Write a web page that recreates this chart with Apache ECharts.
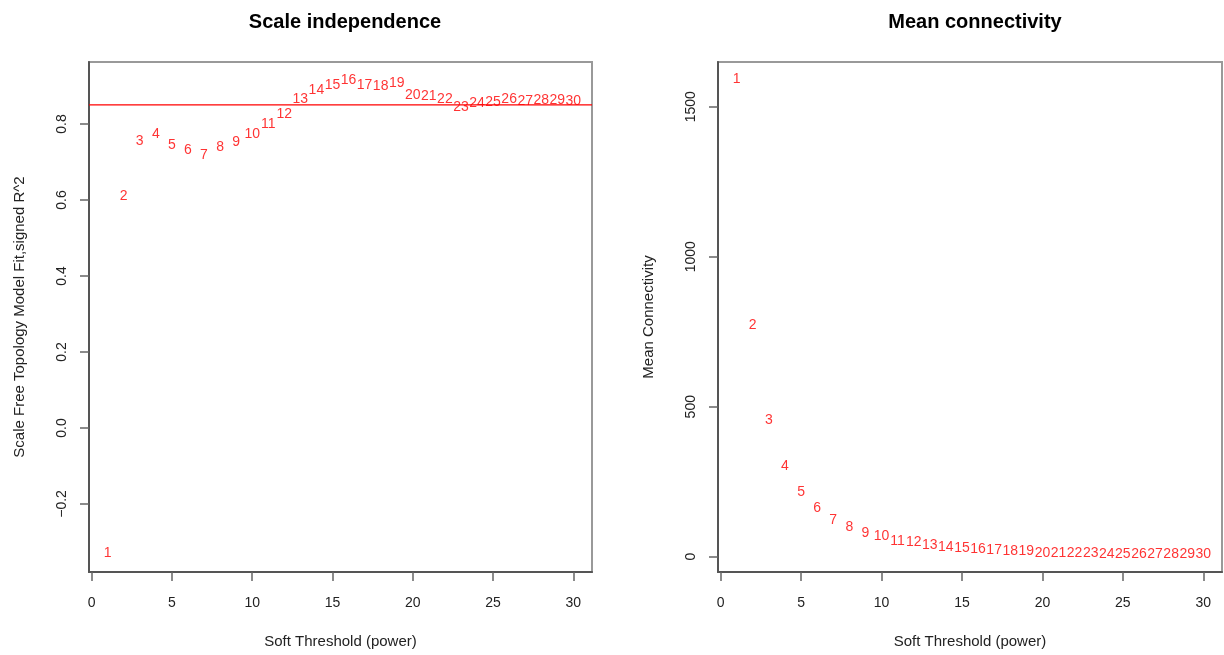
<!DOCTYPE html>
<html>
<head>
<meta charset="utf-8">
<script src="https://cdn.jsdelivr.net/npm/echarts@6/dist/echarts.min.js"></script>
<style>html,body{margin:0;padding:0;background:#fff}#c{width:1224px;height:655px}</style>
</head>
<body>
<div id="c"></div>
<script>
// ---- data ----
const powers = [1,2,3,4,5,6,7,8,9,10,11,12,13,14,15,16,17,18,19,20,21,22,23,24,25,26,27,28,29,30];
const sftR2 = [-0.329,0.611,0.756,0.774,0.745,0.732,0.718,0.738,0.753,0.774,0.799,0.826,0.865,0.888,0.901,0.916,0.903,0.900,0.907,0.876,0.874,0.865,0.844,0.854,0.857,0.866,0.859,0.863,0.863,0.861];
const meanK = [1592,772,456,302,215,161,122,100,80,67,53,48,39,33,28,24,22,19,18,13,13,12,12,10,10,10,10,10,9,9];
const xTicks = [0,5,10,15,20,25,30];
const yTicksLeft = [-0.2,0,0.2,0.4,0.6,0.8];
const yTicksRight = [0,500,1000,1500];
const cutoff = 0.85;
const xMin = -0.16, xMax = 31.16;

const FONT = 'Liberation Sans';
const fmtLeft = v => (Number(v).toFixed(1)).replace('-', '\u2212');

function xAxisCfg(gi){
  return {
    type:'value', gridIndex:gi, min:xMin, max:xMax,
    name:'Soft Threshold (power)', nameLocation:'middle', nameGap:62,
    nameTextStyle:{fontFamily:FONT,fontSize:15,color:'#222'},
    axisLine:{show:true, onZero:false, lineStyle:{color:'#555', width:2}}, splitLine:{show:false},
    axisTick:{show:true, length:9, customValues:xTicks, lineStyle:{color:'#666', width:1.5}},
    axisLabel:{customValues:xTicks, margin:24, fontFamily:FONT, fontSize:14, color:'#222'}
  };
}
function yAxisCfg(gi, min, max, ticks, name, fmt, gap){
  return {
    type:'value', gridIndex:gi, min:min, max:max,
    name:name, nameLocation:'middle', nameGap:gap, nameRotate:90,
    nameTextStyle:{fontFamily:FONT,fontSize:15,color:'#222'},
    axisLine:{show:true, onZero:false, lineStyle:{color:'#555', width:2}}, splitLine:{show:false},
    axisTick:{show:true, length:9, customValues:ticks, lineStyle:{color:'#666', width:1.5}},
    axisLabel:{customValues:ticks, rotate:90, margin:20, fontFamily:FONT, fontSize:14, color:'#222', formatter:fmt}
  };
}
const lab = {show:true, position:'inside', color:'#ff0000', fontFamily:FONT, fontSize:14, formatter:p => String(p.value[0])};

const chart = echarts.init(document.getElementById('c'), null, {renderer:'canvas'});
chart.setOption({
  backgroundColor:'#ffffff',
  animation:false,
  title:[
    {text:'Scale independence', left:340, top:7, textAlign:'center', textStyle:{fontFamily:FONT,fontSize:20,fontWeight:'bold',color:'#000'}},
    {text:'Mean connectivity', left:970, top:7, textAlign:'center', textStyle:{fontFamily:FONT,fontSize:20,fontWeight:'bold',color:'#000'}}
  ],
  grid:[
    {left:89, top:62, width:503, height:510, show:true, borderColor:'#999', borderWidth:2, backgroundColor:'transparent'},
    {left:718, top:62, width:504, height:510, show:true, borderColor:'#999', borderWidth:2, backgroundColor:'transparent'}
  ],
  xAxis:[xAxisCfg(0), xAxisCfg(1)],
  yAxis:[
    yAxisCfg(0, -0.379, 0.963, yTicksLeft, 'Scale Free Topology Model Fit,signed R^2', fmtLeft, 62),
    yAxisCfg(1, -51, 1649, yTicksRight, 'Mean Connectivity', v => String(v), 62)
  ],
  series:[
    {type:'line', xAxisIndex:0, yAxisIndex:0, z:1, showSymbol:false, symbol:'none', silent:true,
     data:[[xMin, cutoff],[xMax, cutoff]], lineStyle:{color:'#ff0000', width:1.2}, itemStyle:{color:'#ff0000'}},
    {type:'scatter', xAxisIndex:0, yAxisIndex:0, z:3, symbolSize:1, itemStyle:{color:'rgba(0,0,0,0)'},
     data:powers.map((p,i)=>[p,sftR2[i]]), label:lab},
    {type:'scatter', xAxisIndex:1, yAxisIndex:1, z:3, symbolSize:1, itemStyle:{color:'rgba(0,0,0,0)'},
     data:powers.map((p,i)=>[p,meanK[i]]), label:lab}
  ]
});
</script>
</body>
</html>
